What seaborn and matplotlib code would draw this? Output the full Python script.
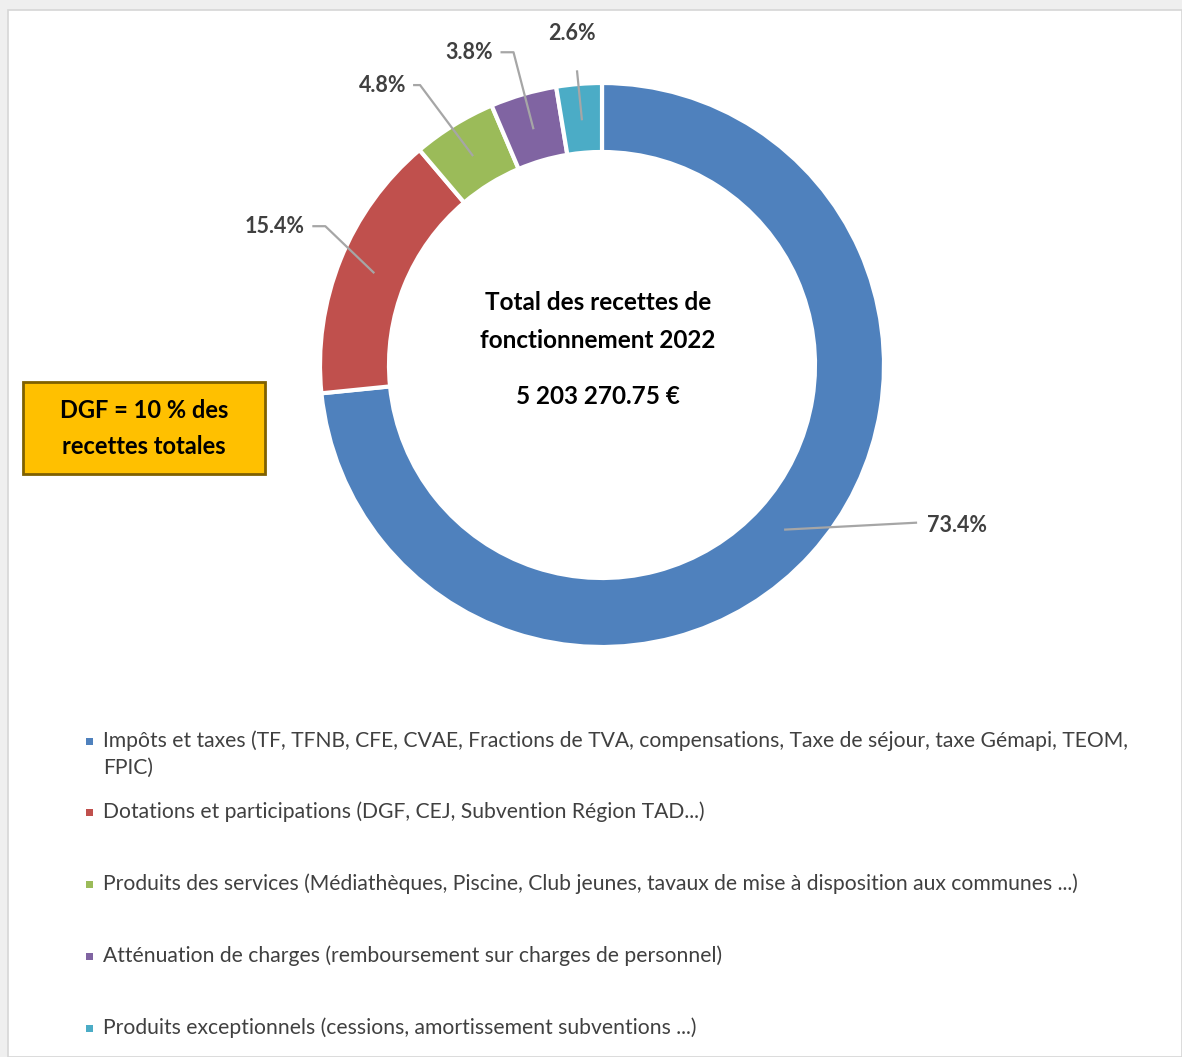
import matplotlib
matplotlib.use("Agg")
import matplotlib.pyplot as plt
import seaborn as sns
import numpy as np
from matplotlib.patches import Rectangle

# données du graphique
categories = [
    "Impôts et taxes (TF, TFNB, CFE, CVAE, Fractions de TVA, compensations, Taxe de séjour, taxe Gémapi, TEOM,\nFPIC)",
    "Dotations et participations (DGF, CEJ, Subvention Région TAD...)",
    "Produits des services (Médiathèques, Piscine, Club jeunes, tavaux de mise à disposition aux communes ...)",
    "Atténuation de charges (remboursement sur charges de personnel)",
    "Produits exceptionnels (cessions, amortissement subventions ...)",
]
parts = [73.4, 15.4, 4.8, 3.8, 2.6]
couleurs = ["#4f81bd", "#c0504d", "#9bbb59", "#8064a2", "#4bacc6"]
titre_centre = ["Total des recettes de", "fonctionnement 2022", "5 203 270.75 €"]
encadre = ["DGF = 10 % des", "recettes totales"]

W, H = 1182, 1057

sns.set_theme(style="white")
plt.rcParams['font.family'] = ['Lato', 'DejaVu Sans']
palette = sns.color_palette(couleurs)

fig = plt.figure(figsize=(W / 100, H / 100), dpi=100, facecolor="#efefef")
ax = fig.add_axes([0, 0, 1, 1])

# fond blanc de la "carte"
ax.add_patch(Rectangle((8, 0), W - 8, H - 10, facecolor="white",
                       edgecolor="#d6d6d6", lw=1.2, zorder=0))

cx, cy, R, largeur = 602, H - 365, 282, 69
wedges, _ = ax.pie(parts, colors=palette, startangle=90, counterclock=False,
                   center=(cx, cy), radius=R, frame=True,
                   wedgeprops=dict(width=largeur, edgecolor="white", linewidth=3))

ax.set_xlim(0, W)
ax.set_ylim(0, H)
ax.set_aspect("equal")
ax.axis("off")

# étiquettes avec lignes de rappel (décalages en pixels depuis le point d'ancrage)
# (coude, fin de ligne, texte, alignement)
reglages = [
    (None, (133, 7), (143, 4), "left"),
    ((-49, 47), (-62, 47), (-70, 47), "right"),
    ((-53, 71), (-60, 71), (-67, 71), "right"),
    ((-20, 77), (-33, 77), (-41, 77), "right"),
    (None, (-5, 50), (-10, 87), "center"),
]
r_ancre = R - largeur / 2 - 2
for w, v, (coude, fin, txt, ha) in zip(wedges, parts, reglages):
    theta = np.deg2rad((w.theta1 + w.theta2) / 2)
    px, py = cx + r_ancre * np.cos(theta), cy + r_ancre * np.sin(theta)
    xs, ys = [px], [py]
    if coude is not None:
        xs.append(px + coude[0]); ys.append(py + coude[1])
    xs.append(px + fin[0]); ys.append(py + fin[1])
    ax.plot(xs, ys, color="#a6a6a6", lw=1.6, zorder=5, solid_capstyle="butt")
    ax.text(px + txt[0], py + txt[1], f"{v:.1f}%", ha=ha, va="center",
            fontsize=15.5, fontweight="bold", color="#404040", zorder=6)

# texte au centre
for ligne, y in zip(titre_centre, [302, 341, 396]):
    ax.text(cx - 4, H - y, ligne, ha="center", va="center",
            fontsize=17.5, fontweight="bold", color="black")

# encadré DGF
ax.add_patch(Rectangle((23, H - 474), 242, 92, facecolor="#ffc000",
                       edgecolor="#7f6000", lw=2, zorder=4))
for ligne, y in zip(encadre, [410, 446]):
    ax.text(144, H - y, ligne, ha="center", va="center", fontsize=17,
            fontweight="bold", color="black", zorder=5)

# légende manuelle
y_lignes = [741, 812, 884, 956, 1028]
for cat, col, y in zip(categories, palette, y_lignes):
    ax.add_patch(Rectangle((86, H - y - 4), 7, 7, facecolor=col, edgecolor="none"))
    for k, morceau in enumerate(cat.split("\n")):
        ax.text(103, H - y - 27 * k, morceau, ha="left", va="center",
                fontsize=15.2, color="#404040")

fig.savefig("out.png", dpi=100, facecolor=fig.get_facecolor())
